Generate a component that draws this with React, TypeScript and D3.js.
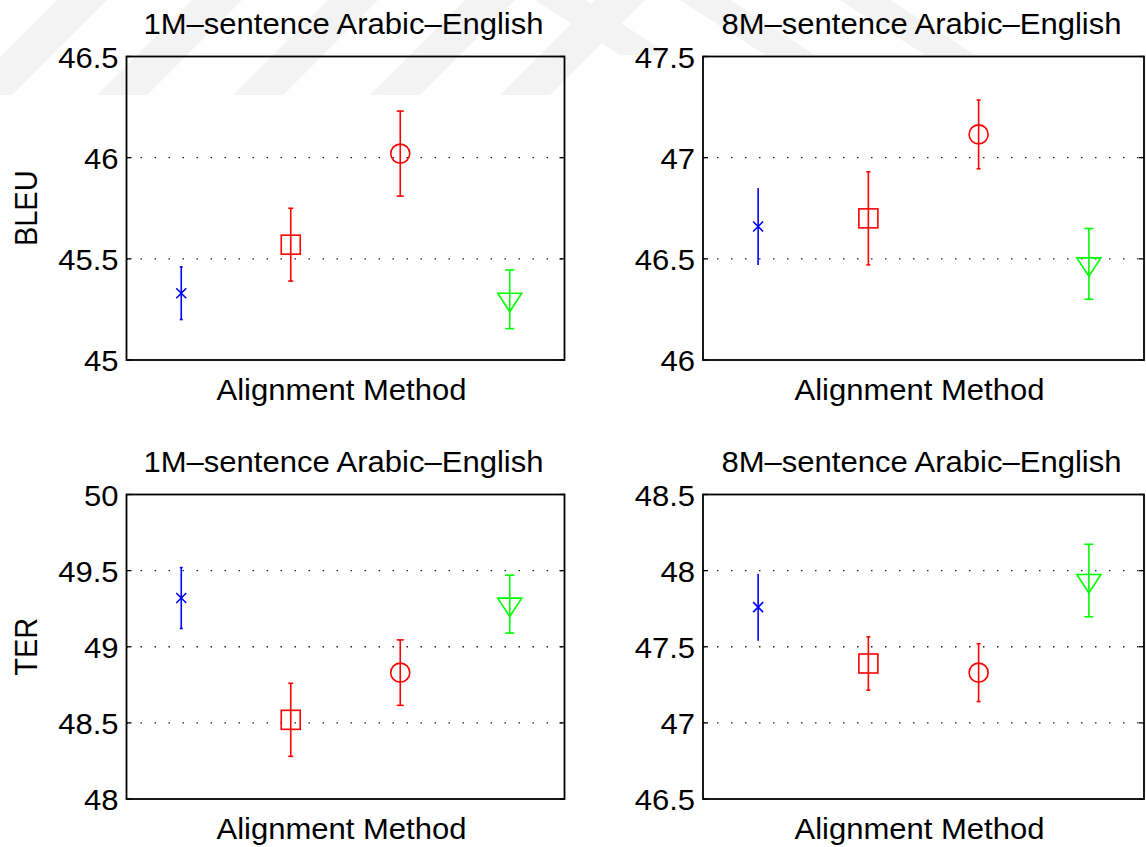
import React from "react";
import * as d3 from "d3";

// ---------- data ----------
const methods = [1, 2, 3, 4];
const panelTitles = ["1M\u2013sentence Arabic\u2013English", "8M\u2013sentence Arabic\u2013English"];
const xLabel = "Alignment Method";
const metricLabels = ["BLEU", "TER"];

const bleu1M = [45.33, 45.57, 46.02, 45.30];
const bleu1MErr = [0.13, 0.18, 0.21, 0.145];
const bleu8M = [46.66, 46.70, 47.115, 46.475];
const bleu8MErr = [0.19, 0.23, 0.17, 0.175];
const ter1M = [49.32, 48.52, 48.83, 49.28];
const ter1MErr = [0.2, 0.24, 0.215, 0.19];
const ter8M = [47.76, 47.39, 47.33, 47.935];
const ter8MErr = [0.22, 0.175, 0.19, 0.238];

const bleu1MTicks = [45, 45.5, 46, 46.5];
const bleu8MTicks = [46, 46.5, 47, 47.5];
const ter1MTicks = [48, 48.5, 49, 49.5, 50];
const ter8MTicks = [46.5, 47, 47.5, 48, 48.5];

// ---------- style ----------
const markerKinds = ["x", "square", "circle", "triangle"];
const markerColors = ["#0000ff", "#ff0000", "#ff0000", "#00ff00"];
const FONT = "'Liberation Sans', Arial, Helvetica, sans-serif";
const FS = 29;
const SX = 1.07;

const colX = [
  [126.5, 564.5],
  [703, 1144],
];
const rowY = [
  [56.5, 360],
  [494.5, 799],
];

const panels = [
  { row: 0, col: 0, values: bleu1M, errors: bleu1MErr, ticks: bleu1MTicks, caps: [3, 5, 7, 9] },
  { row: 0, col: 1, values: bleu8M, errors: bleu8MErr, ticks: bleu8MTicks, caps: [0, 4, 4, 9] },
  { row: 1, col: 0, values: ter1M, errors: ter1MErr, ticks: ter1MTicks, caps: [3, 5, 7, 9] },
  { row: 1, col: 1, values: ter8M, errors: ter8MErr, ticks: ter8MTicks, caps: [0, 4, 4, 9] },
];

function Marker({ kind, cx, cy, color }: { kind: string; cx: number; cy: number; color: string }) {
  const sw = 1.6;
  if (kind === "x") {
    const h = 5;
    return (
      <path
        d={`M${cx - h},${cy - h}L${cx + h},${cy + h}M${cx - h},${cy + h}L${cx + h},${cy - h}`}
        stroke={color}
        strokeWidth={sw}
        fill="none"
      />
    );
  }
  if (kind === "square") {
    const h = 9.5;
    return <rect x={cx - h} y={cy - h} width={2 * h} height={2 * h} stroke={color} strokeWidth={sw} fill="none" />;
  }
  if (kind === "circle") {
    return <circle cx={cx} cy={cy} r={9.5} stroke={color} strokeWidth={sw} fill="none" />;
  }
  // downward triangle
  return (
    <path
      d={`M${cx - 12},${cy - 6}L${cx + 12},${cy - 6}L${cx},${cy + 12.4}Z`}
      stroke={color}
      strokeWidth={sw}
      fill="none"
    />
  );
}

function Panel({ p }: { p: (typeof panels)[number] }) {
  const [x0, x1] = colX[p.col];
  const [y0, y1] = rowY[p.row];
  const x = d3.scaleLinear().domain([0.5, 4.5]).range([x0, x1]);
  const ext = d3.extent(p.ticks) as [number, number];
  const y = d3.scaleLinear().domain(ext).range([y1, y0]);
  const cxMid = (x0 + x1) / 2;
  const cyMid = (y0 + y1) / 2;
  const inner = p.ticks.filter((t) => t !== ext[0] && t !== ext[1]);
  return (
    <g>
      {inner.map((t) => (
        <line
          key={"g" + t}
          x1={x0}
          x2={x1}
          y1={y(t)}
          y2={y(t)}
          stroke="#222"
          strokeWidth={1.4}
          strokeDasharray="1.5 12.5"
        />
      ))}
      {p.ticks.map((t) => (
        <g key={"t" + t}>
          <line x1={x0} x2={x0 + 5} y1={y(t)} y2={y(t)} stroke="#000" strokeWidth={1.3} />
          <line x1={x1 - 5} x2={x1} y1={y(t)} y2={y(t)} stroke="#000" strokeWidth={1.3} />
          <text
            transform={`translate(${x0 - 8},${y(t) + 11}) scale(${SX},1)`}
            textAnchor="end"
            fontFamily={FONT}
            fontSize={FS}
            fill="#000"
          >
            {String(t)}
          </text>
        </g>
      ))}
      {methods.map((m, i) => {
        const cx = x(m);
        const v = p.values[i];
        const e = p.errors[i];
        const top = y(v + e);
        const bot = y(v - e);
        const cw = p.caps[i] / 2;
        const col = markerColors[i];
        return (
          <g key={"m" + i}>
            <line x1={cx} x2={cx} y1={top} y2={bot} stroke={col} strokeWidth={1.6} />
            {cw > 0 && (
              <>
                <line x1={cx - cw} x2={cx + cw} y1={top} y2={top} stroke={col} strokeWidth={1.6} />
                <line x1={cx - cw} x2={cx + cw} y1={bot} y2={bot} stroke={col} strokeWidth={1.6} />
              </>
            )}
            <Marker kind={markerKinds[i]} cx={cx} cy={y(v)} color={col} />
          </g>
        );
      })}
      <rect x={x0} y={y0} width={x1 - x0} height={y1 - y0} fill="none" stroke="#000" strokeWidth={1.8} />
      <text
        transform={`translate(${cxMid - 2},${y0 - 23}) scale(${SX},1)`}
        textAnchor="middle"
        fontFamily={FONT}
        fontSize={FS}
        fill="#000"
      >
        {panelTitles[p.col]}
      </text>
      <text
        transform={`translate(${cxMid - 4},${y1 + 40}) scale(${SX},1)`}
        textAnchor="middle"
        fontFamily={FONT}
        fontSize={FS}
        fill="#000"
      >
        {xLabel}
      </text>
      {p.col === 0 && (
        <text
          transform={`translate(36.5,${cyMid}) rotate(-90) scale(1,${SX})`}
          textAnchor="middle"
          fontFamily={FONT}
          fontSize={FS}
          fill="#000"
        >
          {metricLabels[p.row]}
        </text>
      )}
    </g>
  );
}

const slashBands = [-38, 97, 233, 370, 500];
const backBands = [535, 680, 840];

export default function App() {
  return (
    <svg
      width={1146}
      height={847}
      style={{ position: "absolute", left: 0, top: 0, display: "block", background: "#fff" }}
    >
      <rect x={0} y={0} width={1146} height={847} fill="#fff" />
      <g fill="#000" opacity={0.045}>
        {slashBands.map((b) => (
          <path key={"s" + b} d={`M${b},95L${b + 50},95L${b + 145},0L${b + 95},0Z`} />
        ))}
        {backBands.map((b) => (
          <path key={"b" + b} d={`M${b},0L${b + 50},0L${b + 135},55L${b + 85},55Z`} />
        ))}
      </g>
      {panels.map((p, i) => (
        <Panel key={i} p={p} />
      ))}
    </svg>
  );
}
